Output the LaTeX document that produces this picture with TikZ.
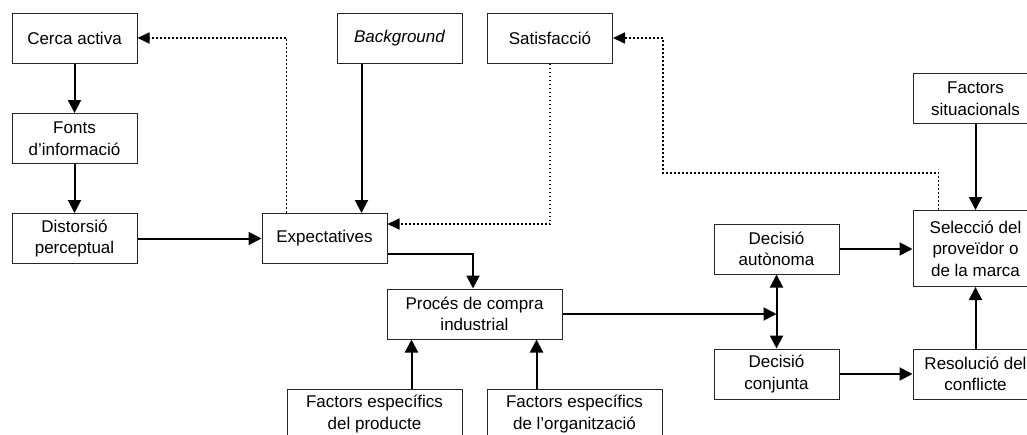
\documentclass[tikz,border=0pt]{standalone}
\usepackage{fontspec}
\setmainfont{Liberation Sans}
\usetikzlibrary{arrows.meta}
\begin{document}
\begin{tikzpicture}[x=1pt,y=-1pt,
  box/.style={draw=black!85, line width=1pt, fill=white, align=center,
    inner sep=0pt, minimum width=125pt, minimum height=50pt,
    font=\fontsize{17}{21.5}\selectfont},
  wide/.style={box, minimum width=175pt},
  flow/.style={line width=2pt, -{Triangle[length=13pt,width=13pt]}},
  both/.style={line width=2pt, {Triangle[length=13pt,width=13pt]}-{Triangle[length=13pt,width=13pt]}},
  feedback/.style={line width=1.7pt, dash pattern=on 1.7pt off 2.3pt,
    -{Triangle[length=12pt,width=11pt]}}]
\useasboundingbox (0,0) rectangle (1027,434);
\clip (0,0) rectangle (1027,434);

% left column
\node[box] (cerca)  at (74.5,38)    {Cerca activa};
\node[box] (fonts)  at (74.5,138.5) {Fonts\\d’informació};
\node[box] (distor) at (74.5,238.5) {Distorsió\\perceptual};

% centre
\node[box] (expect) at (324.5,238.5) {Expectatives};
\node[box] (backg)  at (399.5,38)    {\itshape Background};
\node[box] (satis)  at (550,38)      {Satisfacció};
\node[wide] (proces) at (474.5,314)  {Procés de compra\\industrial};
\node[wide] (fprod)  at (374.5,414)  {Factors específics\\del producte};
\node[wide] (forg)   at (574.5,414)  {Factors específics\\de l’organització};

% decision and choice
\node[box] (decaut)  at (776.5,249) {Decisió\\autònoma};
\node[box] (decconj) at (776.5,374) {Decisió\\conjunta};
\node[box] (facsit)  at (975.5,98.5) {Factors\\situacionals};
\node[box, minimum height=76pt] (selec) at (975.5,248.5) {Selecció del\\proveïdor o\\de la marca};
\node[box] (resol)   at (975.5,374) {Resolució del\\conflicte};

% solid flows
\draw[flow] (cerca) -- (fonts);
\draw[flow] (fonts) -- (distor);
\draw[flow] (distor) -- (expect);
\draw[flow] ([xshift=25pt]backg.south west) -- ([xshift=25pt]backg.south west |- expect.north);
\draw[flow] ([yshift=-15.5pt]expect.east) -| ([xshift=-1.5pt]proces.north);
\draw[flow] (proces.east) -- (proces.east -| decaut.south);
\draw[both] (decaut.south) -- (decconj.north);
\draw[flow] (decaut.east) -- (decaut.east -| selec.west);
\draw[flow] (decconj.east) -- (decconj.east -| resol.west);
\draw[flow] (resol) -- (selec);
\draw[flow] (facsit) -- (selec);
\draw[flow] ([xshift=125pt]fprod.north west) -- ([xshift=125pt]fprod.north west |- proces.south);
\draw[flow] ([xshift=50pt]forg.north west) -- ([xshift=50pt]forg.north west |- proces.south);

% dotted feedback loops
\draw[feedback] ([xshift=25pt]expect.north west) |- (cerca.east);
\draw[feedback] (satis.south) |- ([yshift=14.5pt]expect.east);
\coordinate (bend) at (663,173);
\draw[feedback] ([xshift=26pt]selec.north west) |- (bend) |- (satis.east);
\end{tikzpicture}
\end{document}
